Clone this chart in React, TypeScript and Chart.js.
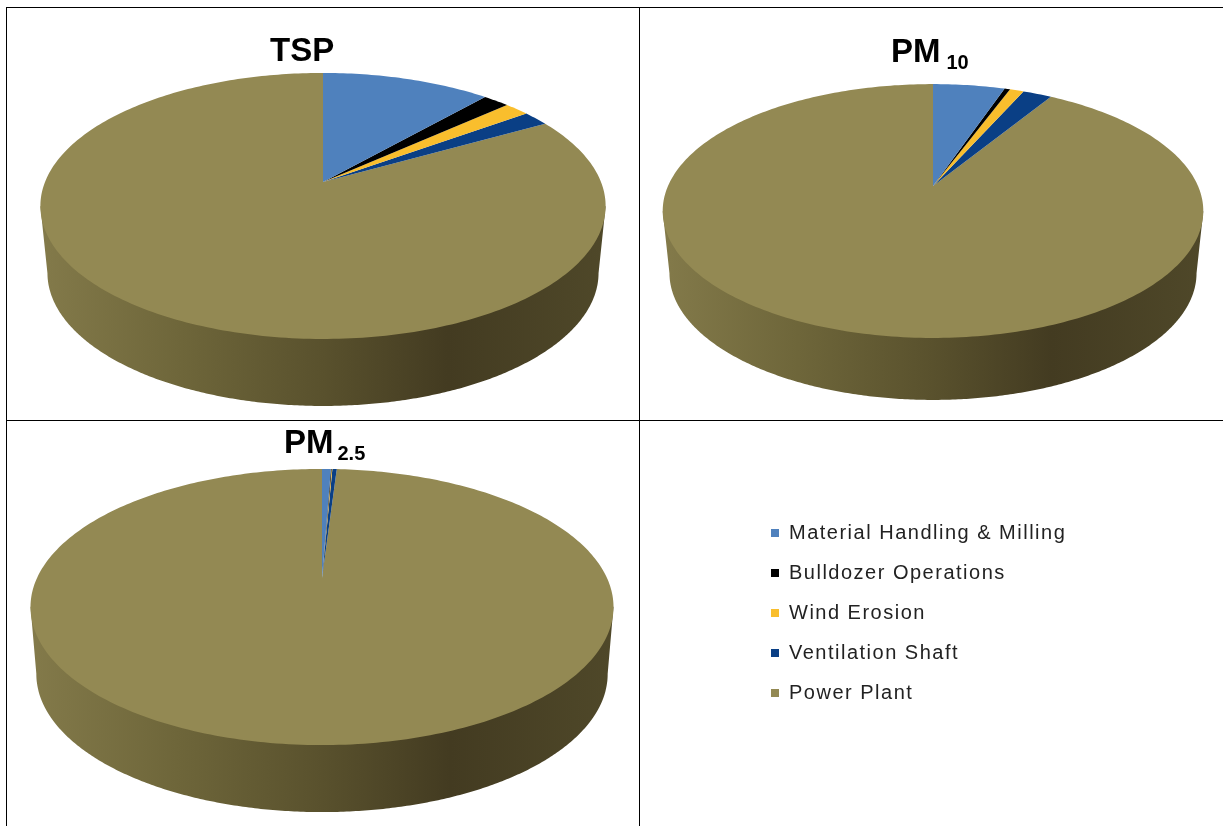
import React, { useEffect, useRef } from "react";
import { Chart, registerables } from "chart.js";

Chart.register(...registerables);

const categories = ["Material Handling & Milling", "Bulldozer Operations", "Wind Erosion", "Ventilation Shaft", "Power Plant"];
const tspShares = [11.5, 1.8, 1.7, 1.8, 83.2];
const pm10Shares = [5.2, 0.4, 1.0, 2.1, 91.3];
const pm25Shares = [0.6, 0.05, 0.05, 0.3, 99.0];
const sliceColors = ["#4F81BD", "#000000", "#F9BE2D", "#0A3F85", "#938953"];
const wallStops = [
  [0, "#837A4A"],
  [0.25, "#6E663A"],
  [0.5, "#59512D"],
  [0.72, "#433B21"],
  [1, "#4F4829"],
];

type Cell = { left: number; top: number; width: number; height: number };
type Disc = {
  cx: number; cy: number; // apex of the slices, page coordinates
  a: number; b: number; k: number; // perspective of the top face
  depth: number; shrink: number; // drop and narrowing of the lower rim
  title: string; sub: string; titleX: number; titleY: number; subGap: number;
};

const FONT = '"Liberation Sans", Arial, sans-serif';

function project(d: Disc, x0: number, y0: number, theta: number, lower = false) {
  const u = Math.cos(theta);
  const v = -Math.sin(theta);
  const w = 1 + d.k * v;
  const a = lower ? d.a * d.shrink : d.a;
  return { x: x0 + (a * u) / w, y: y0 + (lower ? d.depth : 0) - (d.b * v) / w };
}

// Draws the slices as a tilted disc with a shaded wall, from the arc angles the pie controller computed.
const tiltedDisc = {
  id: "tiltedDisc",
  beforeDatasetsDraw(chart: any, _args: any, opts: any) {
    const d: Disc | undefined = opts.disc;
    if (!d) return false;
    const ctx = chart.ctx;
    const arcs = chart.getDatasetMeta(0).data;
    const x0 = arcs[0].x;
    const y0 = arcs[0].y;
    const steps = 720;

    // side wall: from the widest points of the top rim round the lower rim
    let li = 0, ri = 0, lx = Infinity, rx = -Infinity;
    for (let i = 0; i < steps; i++) {
      const p = project(d, x0, y0, (i / steps) * 2 * Math.PI);
      if (p.x < lx) { lx = p.x; li = i; }
      if (p.x > rx) { rx = p.x; ri = i; }
    }
    const grad = ctx.createLinearGradient(lx, 0, rx, 0);
    wallStops.forEach(([o, c]) => grad.addColorStop(o as number, c as string));
    ctx.save();
    ctx.beginPath();
    const topL = project(d, x0, y0, (li / steps) * 2 * Math.PI);
    const topR = project(d, x0, y0, (ri / steps) * 2 * Math.PI);
    ctx.moveTo(topR.x, topR.y);
    for (let i = ri; i <= li; i++) {
      const p = project(d, x0, y0, (i / steps) * 2 * Math.PI, true);
      ctx.lineTo(p.x, p.y);
    }
    ctx.lineTo(topL.x, topL.y);
    ctx.closePath();
    ctx.fillStyle = grad;
    ctx.fill();

    // top face, largest slice first so that the thin ones stay on top
    for (let n = arcs.length - 1; n >= 0; n--) {
      const arc = arcs[n];
      const span = arc.endAngle - arc.startAngle;
      const count = Math.max(2, Math.ceil(span / (Math.PI / 180)));
      ctx.beginPath();
      ctx.moveTo(x0, y0);
      for (let i = 0; i <= count; i++) {
        const p = project(d, x0, y0, arc.startAngle + (span * i) / count);
        ctx.lineTo(p.x, p.y);
      }
      ctx.closePath();
      ctx.fillStyle = arc.options.backgroundColor;
      ctx.fill();
    }

    // heading with optional subscript
    ctx.fillStyle = "#000";
    ctx.textBaseline = "alphabetic";
    ctx.textAlign = "left";
    const cell = opts.cell as Cell;
    ctx.font = `bold 33px ${FONT}`;
    const mainX = d.titleX - cell.left;
    const mainY = d.titleY - cell.top;
    ctx.fillText(d.title, mainX, mainY);
    if (d.sub) {
      const adv = ctx.measureText(d.title).width;
      ctx.font = `bold 20px ${FONT}`;
      ctx.fillText(d.sub, mainX + adv + d.subGap, mainY + 7);
    }
    ctx.restore();
    return false;
  },
};

const cells: Cell[] = [
  { left: 7, top: 8, width: 632, height: 412 },
  { left: 640, top: 8, width: 583, height: 412 },
  { left: 7, top: 421, width: 632, height: 405 },
  { left: 640, top: 421, width: 583, height: 405 },
];

const discs: Disc[] = [
  { cx: 323, cy: 182, a: 278, b: 128.7, k: 0.18, depth: 67, shrink: 0.975, title: "TSP", sub: "", titleX: 270, titleY: 61, subGap: 0 },
  { cx: 933, cy: 186, a: 265, b: 122, k: 0.197, depth: 62, shrink: 0.975, title: "PM", sub: "10", titleX: 891, titleY: 62, subGap: 6 },
  { cx: 322, cy: 578, a: 285, b: 132, k: 0.21, depth: 67, shrink: 0.98, title: "PM", sub: "2.5", titleX: 284, titleY: 453, subGap: 4 },
];

const panels = [tspShares, pm10Shares, pm25Shares];

function centerPadding(cell: Cell, d: Disc) {
  const x = d.cx - cell.left;
  const y = d.cy - cell.top;
  return {
    left: Math.max(0, 2 * x - cell.width),
    right: Math.max(0, cell.width - 2 * x),
    top: Math.max(0, 2 * y - cell.height),
    bottom: Math.max(0, cell.height - 2 * y),
  };
}

function makePie(canvas: HTMLCanvasElement, cell: Cell, shares: number[], d: Disc) {
  return new Chart(canvas, {
    type: "pie",
    data: { labels: categories, datasets: [{ data: shares, backgroundColor: sliceColors, borderWidth: 0 }] },
    options: {
      responsive: false,
      animation: false,
      events: [],
      layout: { padding: centerPadding(cell, d) },
      plugins: { legend: { display: false }, tooltip: { enabled: false }, tiltedDisc: { disc: d, cell } },
    } as any,
    plugins: [tiltedDisc],
  });
}

// Spaced-out legend lettering; set before the legend measures its entries.
const legendSpacing = {
  id: "legendSpacing",
  beforeLayout(chart: any) {
    chart.ctx.letterSpacing = "1.5px";
  },
  beforeDraw(chart: any) {
    chart.ctx.letterSpacing = "1.5px";
  },
};

function makeLegend(canvas: HTMLCanvasElement) {
  return new Chart(canvas, {
    type: "pie",
    data: { labels: categories, datasets: [{ data: tspShares, backgroundColor: sliceColors, borderWidth: 0 }] },
    options: {
      responsive: false,
      animation: false,
      events: [],
      layout: { padding: { left: 111, top: 82 } },
      plugins: {
        tooltip: { enabled: false },
        tiltedDisc: {},
        legend: {
          display: true,
          position: "left",
          align: "start",
          maxWidth: 400,
          labels: {
            boxWidth: 8,
            boxHeight: 8,
            padding: 20,
            color: "#222",
            font: { family: FONT, size: 20 },
          },
        },
      },
    } as any,
    plugins: [tiltedDisc, legendSpacing],
  });
}

export default function App() {
  const refs = useRef<(HTMLCanvasElement | null)[]>([]);
  useEffect(() => {
    const charts = discs.map((d, i) => makePie(refs.current[i]!, cells[i], panels[i], d));
    charts.push(makeLegend(refs.current[3]!));
    return () => charts.forEach((c) => c.destroy());
  }, []);

  const line = (left: number, top: number, width: number, height: number) => (
    <div style={{ position: "absolute", left, top, width, height, background: "#000" }} />
  );

  return (
    <div style={{ position: "fixed", left: 0, top: 0, width: 1223, height: 826, overflow: "hidden", background: "#fff" }}>
      {cells.map((c, i) => (
        <canvas
          key={i}
          ref={(el) => { refs.current[i] = el; }}
          width={c.width}
          height={c.height}
          style={{ position: "absolute", left: c.left, top: c.top, width: c.width, height: c.height }}
        />
      ))}
      {line(6, 7, 1217, 1)}
      {line(6, 420, 1217, 1)}
      {line(6, 7, 1, 819)}
      {line(639, 7, 1, 819)}
    </div>
  );
}
